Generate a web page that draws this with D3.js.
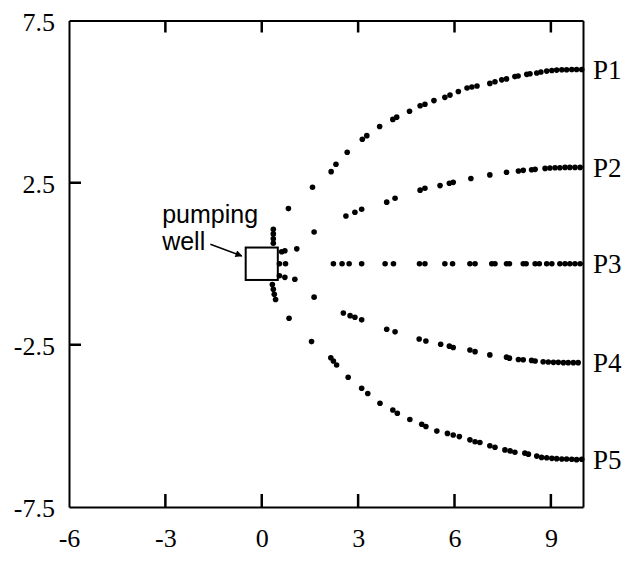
<!DOCTYPE html>
<html>
<head>
<meta charset="utf-8">
<script src="https://cdn.jsdelivr.net/npm/d3@7"></script>
<style>
  html, body { margin: 0; padding: 0; background: #fff; }
  svg { display: block; }
</style>
</head>
<body>
<svg id="chart" width="632" height="580"></svg>
<script>
// Particle pathlines toward a pumping well, travel-time markers as dots
const pathP1 = [[0.36,1.06],[0.36,0.92],[0.36,0.77],[0.36,0.63],[0.83,1.70],[1.58,2.36],[2.16,2.84],[2.31,3.07],[2.66,3.44],[3.13,3.84],[3.27,3.95],[3.67,4.23],[4.08,4.45],[4.20,4.52],[4.60,4.70],[4.93,4.87],[5.08,4.92],[5.36,5.03],[5.70,5.13],[5.86,5.20],[6.12,5.31],[6.39,5.42],[6.54,5.45],[6.70,5.48],[7.10,5.56],[7.26,5.61],[7.47,5.67],[7.62,5.70],[7.88,5.77],[7.98,5.79],[8.25,5.84],[8.35,5.86],[8.56,5.88],[8.69,5.91],[8.87,5.94],[9.03,5.96],[9.18,5.97],[9.34,5.98],[9.49,5.98],[9.65,5.99],[9.80,5.99],[9.96,5.99]];
const pathP2 = [[0.62,0.37],[0.72,0.40],[1.09,0.46],[1.63,0.98],[2.62,1.47],[2.90,1.59],[3.11,1.68],[3.89,1.90],[4.15,2.02],[4.93,2.27],[5.08,2.33],[5.55,2.41],[5.84,2.48],[5.96,2.51],[6.51,2.63],[7.10,2.74],[7.62,2.82],[7.99,2.86],[8.14,2.88],[8.40,2.90],[8.51,2.91],[8.82,2.94],[8.97,2.95],[9.13,2.96],[9.28,2.96],[9.44,2.97],[9.59,2.97],[9.75,2.97],[9.91,2.97]];
const pathP3 = [[0.55,0],[0.74,0],[2.23,0],[2.50,0],[2.72,0],[3.11,0],[3.84,0],[4.10,0],[4.91,0],[5.08,0],[5.70,0],[5.94,0],[6.48,0],[6.64,0],[7.16,0],[7.26,0],[7.62,0],[7.71,0],[8.14,0],[8.23,0],[8.51,0],[8.64,0],[8.87,0],[9.03,0],[9.28,0],[9.44,0],[9.59,0],[9.75,0],[9.91,0]];
const pathP4 = [[0.55,-0.37],[0.72,-0.42],[1.03,-0.48],[1.63,-1.03],[2.54,-1.52],[2.75,-1.60],[2.90,-1.65],[3.11,-1.73],[3.89,-2.02],[4.15,-2.10],[4.90,-2.32],[5.11,-2.38],[5.57,-2.48],[5.84,-2.54],[5.96,-2.58],[6.48,-2.66],[6.64,-2.71],[7.10,-2.81],[7.62,-2.88],[7.71,-2.91],[7.99,-2.95],[8.14,-2.96],[8.40,-2.98],[8.51,-3.00],[8.76,-3.02],[8.92,-3.03],[9.08,-3.04],[9.23,-3.04],[9.39,-3.05],[9.54,-3.05],[9.70,-3.05],[9.85,-3.05]];
const pathP5 = [[0.33,-0.64],[0.36,-0.79],[0.39,-0.94],[0.43,-1.10],[0.85,-1.68],[1.55,-2.40],[2.15,-2.90],[2.23,-3.00],[2.33,-3.12],[2.69,-3.50],[3.11,-3.84],[3.30,-4.00],[3.68,-4.30],[4.08,-4.51],[4.22,-4.61],[4.61,-4.80],[4.98,-4.95],[5.11,-5.02],[5.45,-5.16],[5.78,-5.23],[5.96,-5.28],[6.15,-5.33],[6.48,-5.43],[6.64,-5.49],[6.79,-5.51],[7.10,-5.61],[7.26,-5.66],[7.57,-5.74],[7.73,-5.77],[7.88,-5.81],[8.19,-5.84],[8.30,-5.87],[8.56,-5.93],[8.71,-5.97],[8.87,-5.98],[9.03,-6.00],[9.18,-6.01],[9.34,-6.02],[9.49,-6.02],[9.65,-6.03],[9.80,-6.04],[9.96,-6.03]];

const pathNames = ["P1", "P2", "P3", "P4", "P5"];
const paths = [pathP1, pathP2, pathP3, pathP4, pathP5];

const xTicks = [-6, -3, 0, 3, 6, 9];
const yTicks = [-7.5, -2.5, 2.5, 7.5];
const xTickLabels = ["-6", "-3", "0", "3", "6", "9"];
const yTickLabels = ["-7.5", "-2.5", "2.5", "7.5"];

// well square: centre and half-width in model units
const wellCenter = [0, 0];
const wellHalf = 0.5;
const wellLabel = ["pumping", "well"];

const svg = d3.select("#chart");
const x = d3.scaleLinear().domain([-6, 10]).range([69, 583]);
const y = d3.scaleLinear().domain([-7.5, 7.5]).range([507, 20.5]);

const serif = "'Liberation Serif', 'Times New Roman', serif";
const sans = "'Liberation Sans', Arial, sans-serif";

// inward tick marks on bottom, top and left
const innerX = xTicks.filter(d => d > -6);
const innerY = yTicks.filter(d => Math.abs(d) < 7.5);
const tickPath = d3.path();
innerX.forEach(d => {
  tickPath.moveTo(x(d), y(-7.5)); tickPath.lineTo(x(d), y(-7.5) - 13);
  tickPath.moveTo(x(d), y(7.5)); tickPath.lineTo(x(d), y(7.5) + 12);
});
innerY.forEach(d => {
  tickPath.moveTo(x(-6), y(d)); tickPath.lineTo(x(-6) + 12, y(d));
});
svg.append("path")
  .attr("d", tickPath.toString())
  .attr("fill", "none")
  .style("stroke", "#000")
  .style("stroke-width", "2.5px");

// axes: labels from d3 axes, frame drawn by the domain paths
const gBottom = svg.append("g").attr("transform", `translate(0,${y(-7.5)})`)
  .call(d3.axisBottom(x).tickValues(xTicks).tickFormat((d, i) => xTickLabels[i])
    .tickSize(0).tickPadding(22));
const gLeft = svg.append("g").attr("transform", `translate(${x(-6)},0)`)
  .call(d3.axisLeft(y).tickValues(yTicks).tickFormat((d, i) => yTickLabels[i])
    .tickSize(0).tickPadding(14));
const gTop = svg.append("g").attr("transform", `translate(0,${y(7.5)})`)
  .call(d3.axisTop(x).tickValues([]).tickSizeOuter(0));
const gRight = svg.append("g").attr("transform", `translate(${x(10)},0)`)
  .call(d3.axisRight(y).tickValues([]).tickSizeOuter(0));

[gBottom, gLeft, gTop, gRight].forEach(g => {
  g.select(".domain").attr("stroke", "#000").attr("stroke-width", 2);
  g.selectAll(".tick text").attr("fill", "#000")
    .style("font-family", serif).style("font-size", "26px");
});
gLeft.selectAll(".tick text").attr("dy", "0.38em");

// pumping well
svg.append("rect")
  .attr("x", x(wellCenter[0] - wellHalf))
  .attr("y", y(wellCenter[1] + wellHalf))
  .attr("width", x(wellCenter[0] + wellHalf) - x(wellCenter[0] - wellHalf))
  .attr("height", y(wellCenter[1] - wellHalf) - y(wellCenter[1] + wellHalf))
  .attr("fill", "#fff").attr("stroke", "#000").attr("stroke-width", 2);

// travel-time markers
svg.append("g").selectAll("g")
  .data(paths).join("g")
  .selectAll("circle")
  .data(d => d).join("circle")
  .attr("cx", d => x(d[0]))
  .attr("cy", d => y(d[1]))
  .attr("r", 2.8)
  .attr("fill", "#000");

// pathline names at the right edge
svg.append("g").selectAll("text")
  .data(paths).join("text")
  .attr("x", x(10) + 10)
  .attr("y", d => y(d[d.length - 1][1]))
  .attr("dy", "0.35em")
  .style("font-family", serif).style("font-size", "27px")
  .attr("fill", "#000")
  .text((d, i) => pathNames[i]);

// well annotation
const ann = svg.append("g").style("font-family", sans).style("font-size", "25px").attr("fill", "#000");
ann.append("text").attr("x", x(-3.1)).attr("y", y(1.26)).text(wellLabel[0]);
ann.append("text").attr("x", x(-3.1)).attr("y", y(0.42)).text(wellLabel[1]);

svg.append("defs").append("marker")
  .attr("id", "arrowHead").attr("viewBox", "0 0 10 10")
  .attr("refX", 9).attr("refY", 5)
  .attr("markerWidth", 10).attr("markerHeight", 7)
  .attr("markerUnits", "userSpaceOnUse")
  .attr("orient", "auto")
  .append("path").attr("d", "M0,0 L10,5 L0,10 z").attr("fill", "#000");

svg.append("line")
  .attr("x1", x(-1.6)).attr("y1", y(0.6))
  .attr("x2", x(-0.62)).attr("y2", y(0.24))
  .attr("stroke", "#000").attr("stroke-width", 1.5)
  .attr("marker-end", "url(#arrowHead)");
</script>
</body>
</html>
